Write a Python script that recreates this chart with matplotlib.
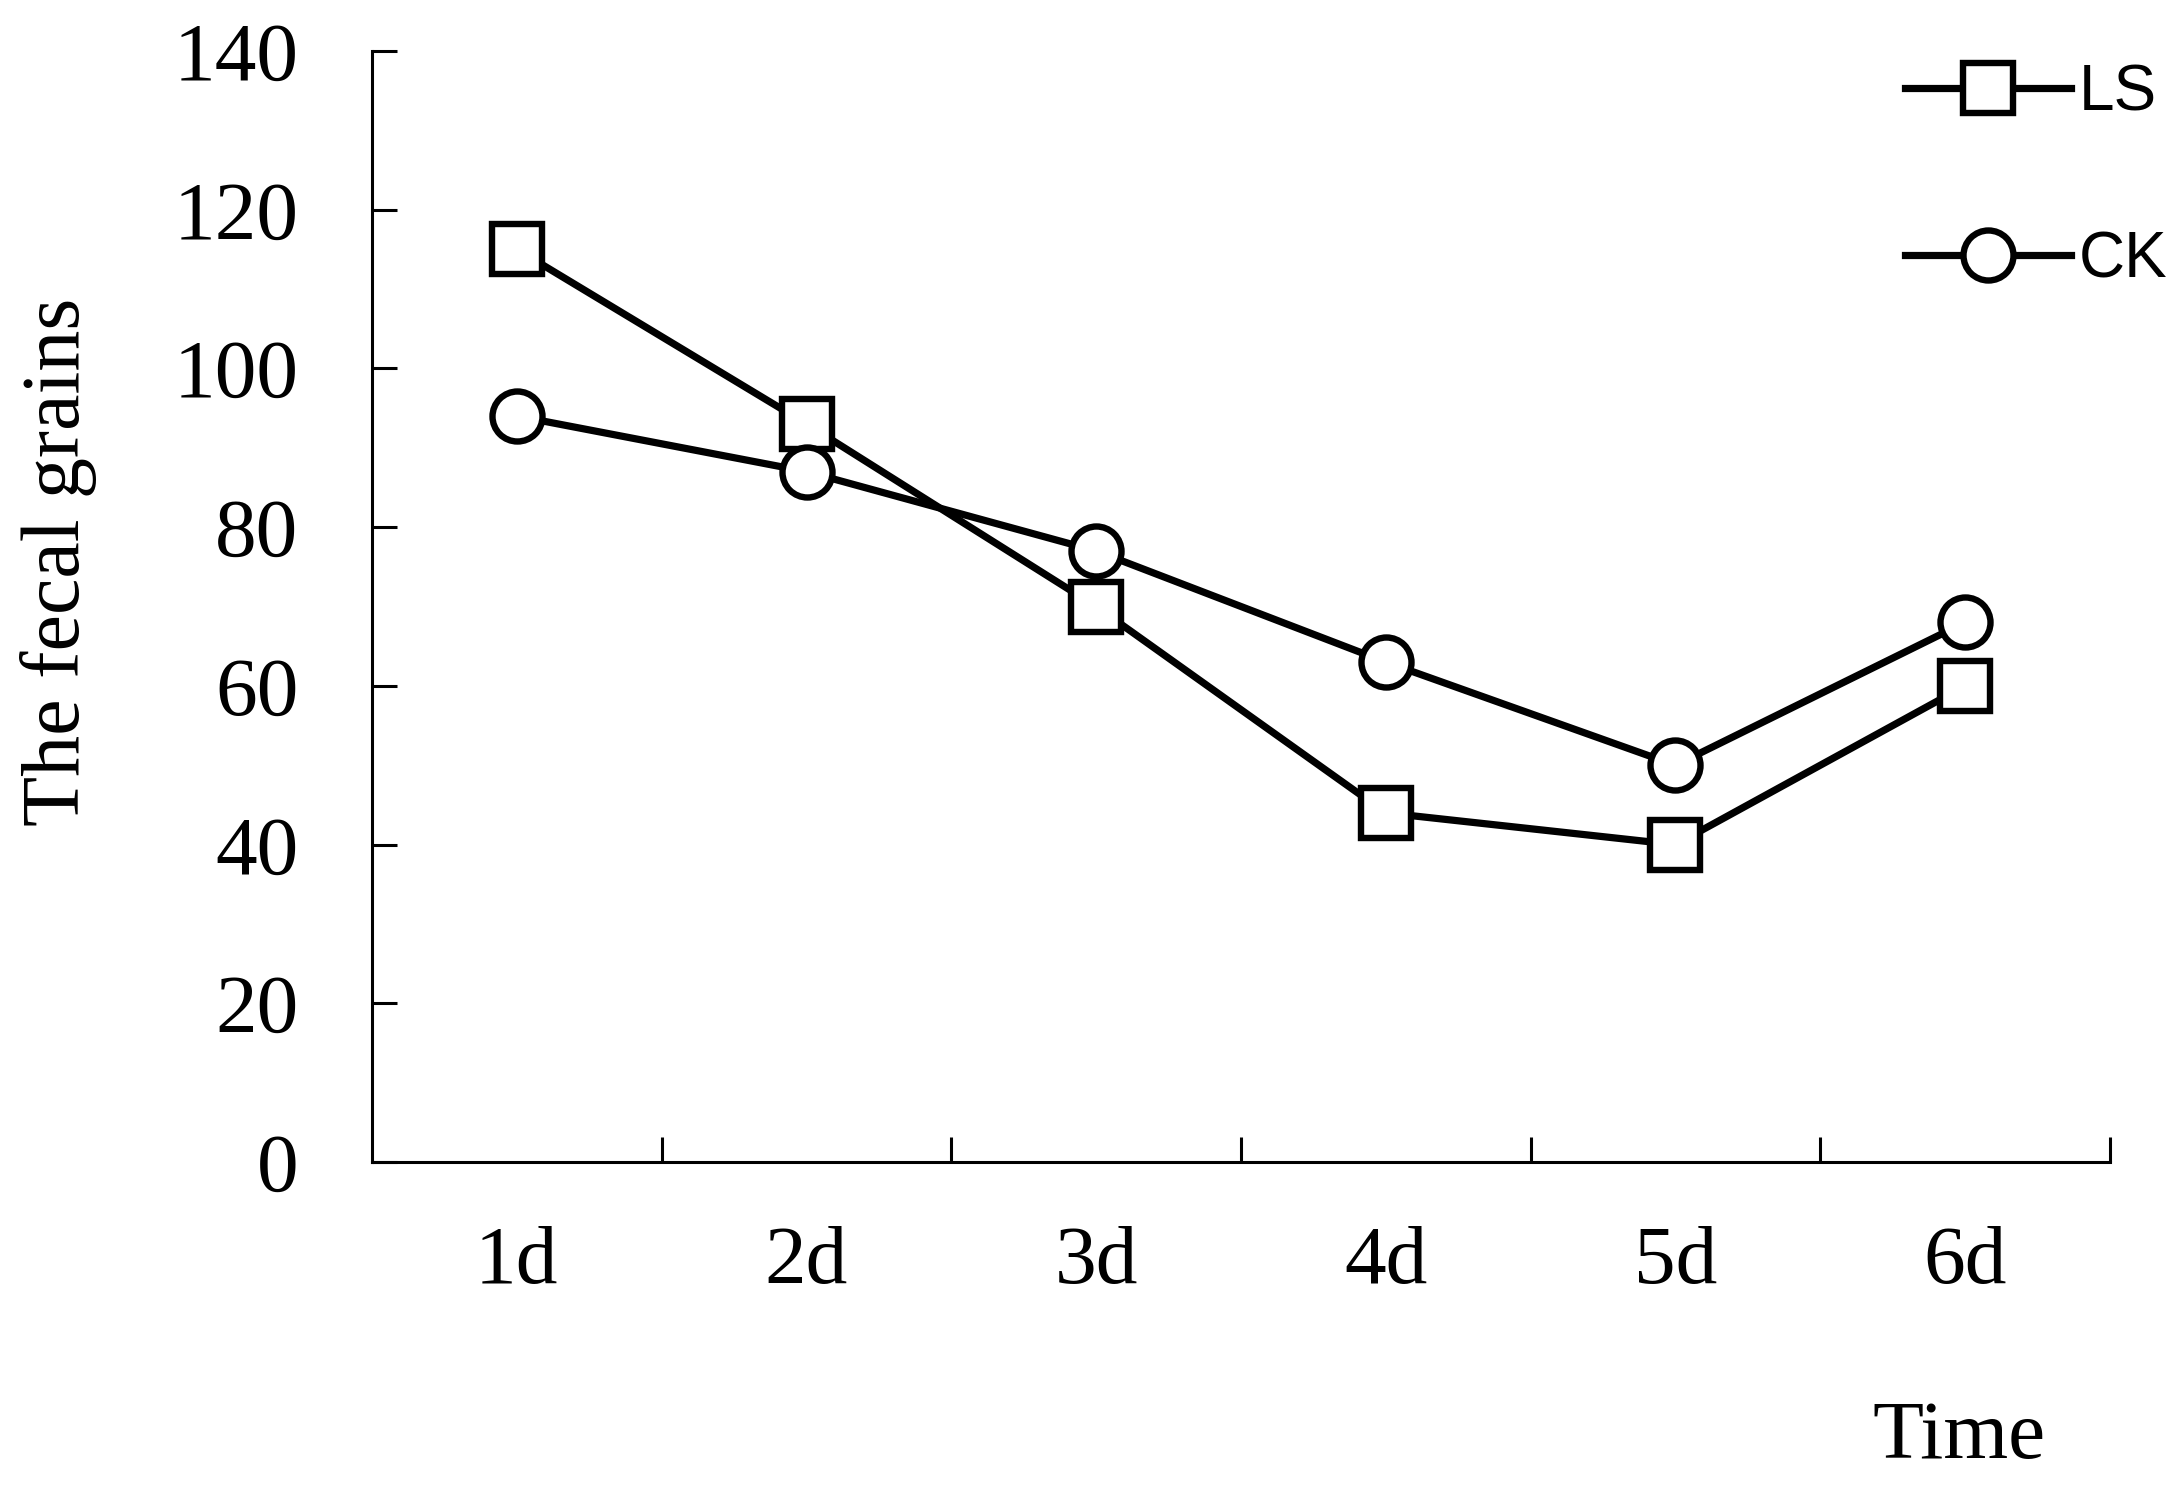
"""
plot.py
Fecal grains per day, LS vs CK
"""
import matplotlib
matplotlib.use('Agg')
import matplotlib.pyplot as plt
from matplotlib.ticker import FixedLocator

# ── Data ───────────────────────────────────────────────────────────
days      = ['1d', '2d', '3d', '4d', '5d', '6d']
ls_values = [115, 93, 70, 44, 40, 60]
ck_values = [94, 87, 77, 63, 50, 68]
y_ticks   = [0, 20, 40, 60, 80, 100, 120, 140]

SERIF  = ['Liberation Serif', 'DejaVu Serif']
NARROW = ['Liberation Sans Narrow', 'Liberation Sans', 'DejaVu Sans']

plt.rcParams['font.family'] = SERIF

fig = plt.figure(figsize=(21.77, 14.90), dpi=100)
ax = fig.add_axes([0.1709, 0.2201, 0.9692 - 0.1709, 0.9658 - 0.2201])

x = list(range(1, len(days) + 1))
mk = dict(color='black', linewidth=5.2, markersize=36, markeredgewidth=4.6,
          markerfacecolor='white', markeredgecolor='black')
ax.plot(x, ls_values, marker='s', label='LS', **mk)
ax.plot(x, ck_values, marker='o', label='CK', **mk)

ax.set_xlim(0.5, len(days) + 0.5)
ax.set_ylim(0, 140)

# category labels centred, tick marks at the boundaries
ax.set_xticks(x)
ax.set_xticklabels(days)
ax.xaxis.set_minor_locator(FixedLocator([i + 0.5 for i in x]))
ax.tick_params(axis='x', which='major', length=0, pad=46, labelsize=60)
ax.tick_params(axis='x', which='minor', direction='in', length=18, width=2.2)

ax.set_yticks(y_ticks)
ax.tick_params(axis='y', direction='in', length=18, width=2.2, pad=53, labelsize=60)

for s in ['top', 'right']:
    ax.spines[s].set_visible(False)
for s in ['left', 'bottom']:
    ax.spines[s].set_linewidth(2.2)

ax.set_ylabel('The fecal grains', fontsize=59)
ax.yaxis.set_label_coords(-0.158, 0.54)
fig.text(0.900, 0.035, 'Time', fontsize=60, ha='center', va='center')

ax.legend(loc='upper right', bbox_to_anchor=(1.022, 0.996), bbox_transform=fig.transFigure,
          frameon=False, handlelength=2.6, handletextpad=0.12, labelspacing=1.68,
          prop={'family': NARROW, 'size': 46})

fig.savefig('out.png', dpi=100)
print('[OK] out.png')
